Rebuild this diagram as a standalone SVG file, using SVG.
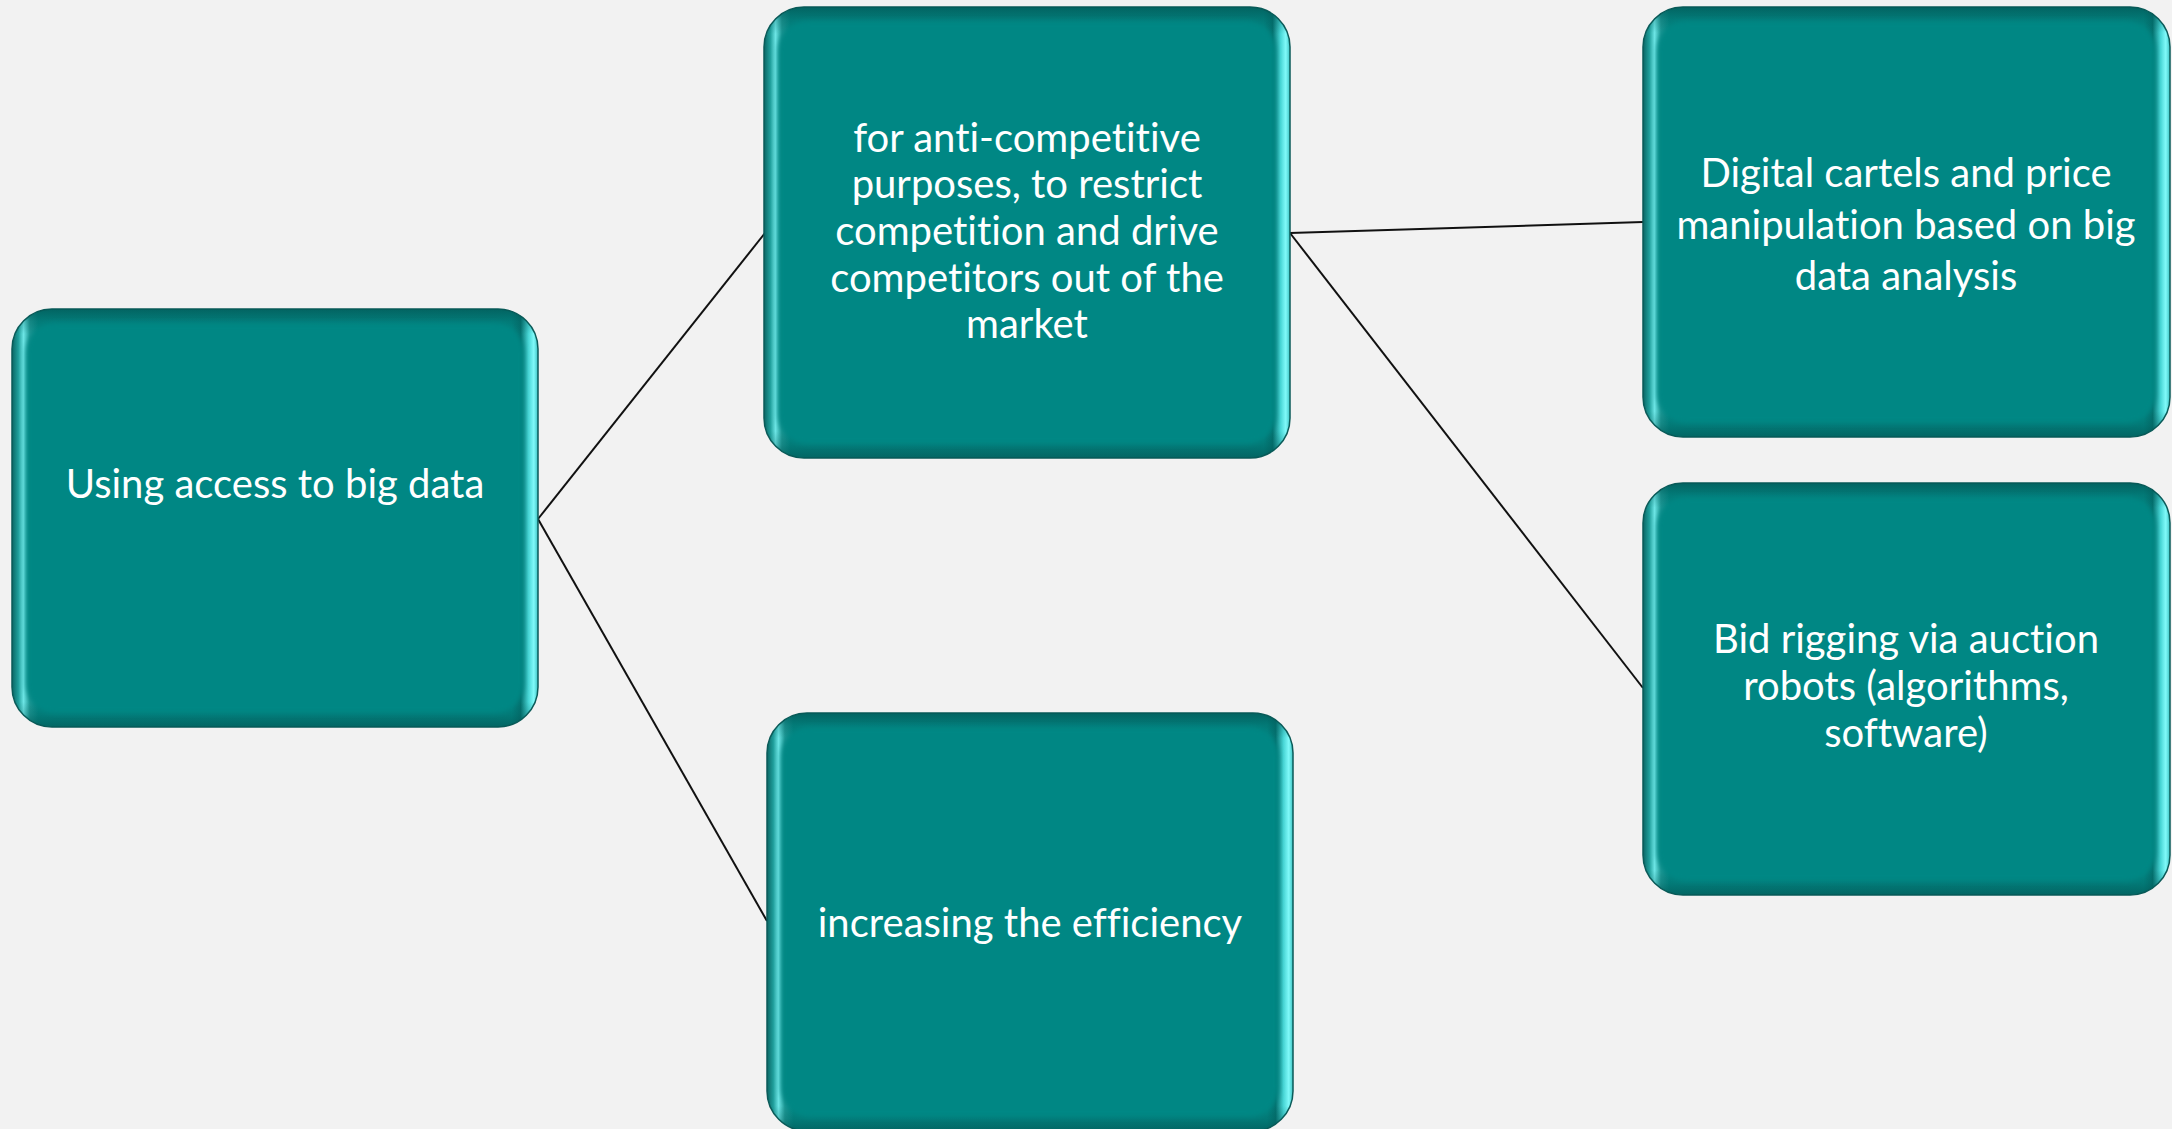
<svg xmlns="http://www.w3.org/2000/svg" width="2172" height="1129" viewBox="0 0 2172 1129">
<defs>
<linearGradient id="bevelH" x1="0" y1="0" x2="1" y2="0">
<stop offset="0" stop-color="#0a6664"/>
<stop offset="0.012" stop-color="#1f9e9b"/>
<stop offset="0.022" stop-color="#6de6e6"/>
<stop offset="0.034" stop-color="#1c9794"/>
<stop offset="0.05" stop-color="#028784"/>
<stop offset="0.95" stop-color="#028582"/>
<stop offset="0.967" stop-color="#03716f"/>
<stop offset="0.982" stop-color="#48d6d6"/>
<stop offset="0.992" stop-color="#80fafa"/>
<stop offset="1" stop-color="#3cc2c2"/>
</linearGradient>
<linearGradient id="bevelV" x1="0" y1="0" x2="0" y2="1">
<stop offset="0" stop-color="#035856" stop-opacity="0.75"/>
<stop offset="0.03" stop-color="#035856" stop-opacity="0.25"/>
<stop offset="0.06" stop-color="#035856" stop-opacity="0"/>
<stop offset="0.94" stop-color="#035856" stop-opacity="0"/>
<stop offset="0.97" stop-color="#035856" stop-opacity="0.25"/>
<stop offset="1" stop-color="#035856" stop-opacity="0.7"/>
</linearGradient>
<filter id="soft" x="-5%" y="-5%" width="110%" height="110%">
<feGaussianBlur stdDeviation="2.5"/>
</filter>
</defs>
<style>
.bg{fill:#f2f2f2}
.outer{fill:url(#bevelH);stroke:#0b5b59;stroke-width:1.5}
.shade{fill:url(#bevelV)}
.inner{fill:#018784;filter:url(#soft)}
.lbl{fill:#ffffff;font-family:Lato,"Open Sans","Liberation Sans",sans-serif;font-size:40px;text-anchor:middle;font-variant-ligatures:none;font-feature-settings:"liga" 0,"clig" 0}
.conn line{stroke:#111111;stroke-width:2}
</style>
<rect class="bg" x="0" y="0" width="2172" height="1129"/>
<g class="conn" id="connectors">
<line x1="538" y1="519" x2="765" y2="233"/>
<line x1="538" y1="519" x2="767" y2="921"/>
<line x1="1290" y1="233" x2="1643" y2="222"/>
<line x1="1290" y1="233" x2="1643" y2="688"/>
</g>
<g id="node-big-data" transform="translate(12,309)">
<rect class="outer" width="526" height="418" rx="40"/>
<rect class="shade" width="526" height="418" rx="40"/>
<rect class="inner" x="14" y="14" width="498" height="390" rx="30"/>
<text class="lbl" x="263" y="189">Using access to big data</text>
</g>
<g id="node-anti-competitive" transform="translate(764,7)">
<rect class="outer" width="526" height="451" rx="40"/>
<rect class="shade" width="526" height="451" rx="40"/>
<rect class="inner" x="14" y="14" width="498" height="423" rx="30"/>
<text class="lbl" x="263" y="145">for anti-competitive</text>
<text class="lbl" x="263" y="191">purposes, to restrict</text>
<text class="lbl" x="263" y="238">competition and drive</text>
<text class="lbl" x="263" y="285">competitors out of the</text>
<text class="lbl" x="263" y="331">market</text>
</g>
<g id="node-efficiency" transform="translate(767,713)">
<rect class="outer" width="526" height="418" rx="40"/>
<rect class="shade" width="526" height="418" rx="40"/>
<rect class="inner" x="14" y="14" width="498" height="390" rx="30"/>
<text class="lbl" x="263" y="224">increasing the efficiency</text>
</g>
<g id="node-digital-cartels" transform="translate(1643,7)">
<rect class="outer" width="527" height="430" rx="40"/>
<rect class="shade" width="527" height="430" rx="40"/>
<rect class="inner" x="14" y="14" width="499" height="402" rx="30"/>
<text class="lbl" x="263" y="180">Digital cartels and price</text>
<text class="lbl" x="263" y="232">manipulation based on big</text>
<text class="lbl" x="263" y="283">data analysis</text>
</g>
<g id="node-bid-rigging" transform="translate(1643,483)">
<rect class="outer" width="527" height="412" rx="40"/>
<rect class="shade" width="527" height="412" rx="40"/>
<rect class="inner" x="14" y="14" width="499" height="384" rx="30"/>
<text class="lbl" x="263" y="170">Bid rigging via auction</text>
<text class="lbl" x="263" y="217">robots (algorithms,</text>
<text class="lbl" x="263" y="264">software)</text>
</g>
</svg>
